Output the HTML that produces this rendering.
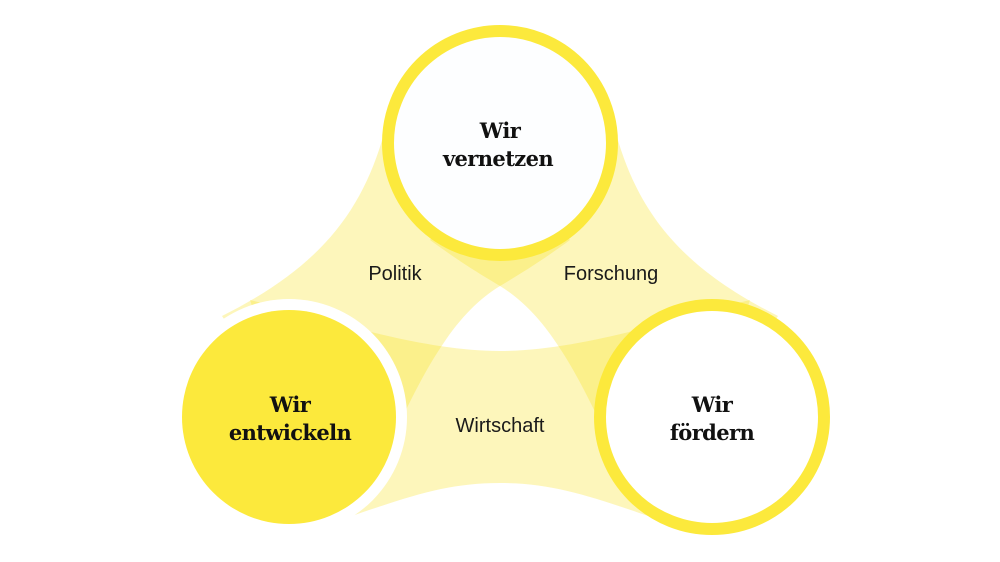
<!DOCTYPE html>
<html><head><meta charset="utf-8"><style>
html,body{margin:0;padding:0;background:#fff;}
svg{display:block}
.b{font-family:"DejaVu Serif","Liberation Serif",serif;font-weight:bold;font-size:21px;fill:#111;letter-spacing:-0.6px}
.l{font-family:"Liberation Sans",sans-serif;font-size:20px;fill:#1a1a1a}
</style></head><body>
<svg width="1000" height="562" viewBox="0 0 1000 562">
<g fill="#f9e21f" fill-opacity="0.3">
<path d="M392,100 C372,200 330,262 222,316 L289,417 L385,455 C405,410 425,370 443,344 C460,318 480,298 500,286 C520,274 540,262 570,240 L500,143 Z"/>
<path d="M608,100 C628,200 670,262 778,316 L712,417 L615,455 C595,410 575,370 557,344 C540,318 520,298 500,286 C480,274 460,262 430,240 L500,143 Z"/>
<path d="M250,300 C330,320 420,351 500,351 C580,351 670,320 750,300 L712,417 L675,525 C600,500 560,483 500,483 C440,483 400,500 325,525 L289,417 Z"/>
</g>
<circle cx="500" cy="143" r="112" fill="#fdfeff" stroke="#fce93c" stroke-width="12"/>
<circle cx="712" cy="417" r="112" fill="#fff" stroke="#fce93c" stroke-width="12"/>
<circle cx="289" cy="417" r="118" fill="#fff"/>
<circle cx="289" cy="417" r="107" fill="#fce93c"/>
<text class="b" x="500" y="138" text-anchor="middle">Wir</text>
<text class="b" x="498" y="166" text-anchor="middle">vernetzen</text>
<text class="b" x="290" y="412" text-anchor="middle">Wir</text>
<text class="b" x="290" y="440" text-anchor="middle">entwickeln</text>
<text class="b" x="712" y="412" text-anchor="middle">Wir</text>
<text class="b" x="712" y="440" text-anchor="middle">fördern</text>
<text class="l" x="395" y="280" text-anchor="middle">Politik</text>
<text class="l" x="611" y="280" text-anchor="middle">Forschung</text>
<text class="l" x="500" y="432" text-anchor="middle">Wirtschaft</text>
</svg>
</body></html>
